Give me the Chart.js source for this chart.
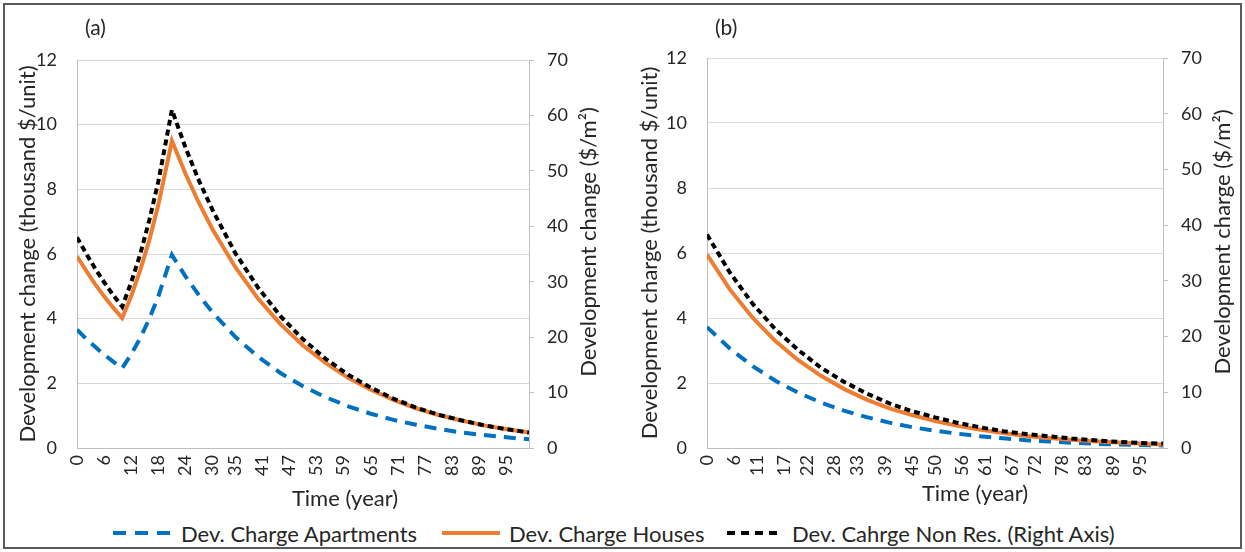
<!DOCTYPE html>
<html>
<head>
<meta charset="utf-8">
<script src="https://cdn.jsdelivr.net/npm/chart.js@4.4.0/dist/chart.umd.min.js"></script>
<style>
  html, body { margin: 0; padding: 0; background: #fff; }
  #wrap { position: relative; width: 1245px; height: 552px; font-family: Lato, sans-serif; color: #262626; }
  #frame { position: absolute; left: 3px; top: 3px; width: 1235px; height: 542px; border: 2px solid #595959; pointer-events: none; }
  canvas { position: absolute; top: 0; }
  #chartA { left: 0; }
  #chartB { left: 622px; }
  .item { position: absolute; top: 519px; height: 28px; display: flex; align-items: center; font-size: 22px; white-space: nowrap; }
  .item svg { margin-right: 9px; }
</style>
</head>
<body>
<div id="wrap">
  <canvas id="chartA" width="622" height="515"></canvas>
  <canvas id="chartB" width="623" height="515"></canvas>
  <div class="item" style="left:113px">
    <svg width="59" height="10"><line x1="0" y1="5" x2="59" y2="5" stroke="#0070C0" stroke-width="4" stroke-dasharray="13 9"/></svg>
    <span>Dev. Charge Apartments</span>
  </div>
  <div class="item" style="left:442px">
    <svg width="58" height="10"><line x1="0" y1="5" x2="58" y2="5" stroke="#ED7D31" stroke-width="4"/></svg>
    <span>Dev. Charge Houses</span>
  </div>
  <div class="item" style="left:727px">
    <svg width="56" height="10"><line x1="0" y1="5" x2="56" y2="5" stroke="#000" stroke-width="4" stroke-dasharray="8 6"/></svg>
    <span>Dev. Cahrge Non Res. (Right Axis)</span>
  </div>
  <div id="frame"></div>
</div>
<script>
// panel (a)
const yearsA = [0, 2, 4, 6, 8, 10, 12, 14, 16, 18, 21, 24, 27, 30, 35, 40, 45, 50, 55, 60, 65, 70, 75, 80, 85, 90, 95, 100];
const apartmentsA = [3.66, 3.38, 3.13, 2.89, 2.67, 2.47, 2.90, 3.40, 4.00, 4.69, 5.97, 5.31, 4.72, 4.19, 3.44, 2.83, 2.32, 1.91, 1.57, 1.29, 1.06, 0.87, 0.72, 0.59, 0.48, 0.40, 0.33, 0.27];
const housesA = [5.93, 5.49, 5.07, 4.69, 4.34, 4.02, 4.70, 5.50, 6.43, 7.52, 9.50, 8.48, 7.57, 6.76, 5.60, 4.63, 3.83, 3.17, 2.63, 2.17, 1.80, 1.49, 1.23, 1.02, 0.85, 0.70, 0.58, 0.48];
const nonResA = [38.0, 35.1, 32.4, 29.9, 27.6, 25.5, 29.9, 35.0, 41.1, 48.1, 61.0, 54.2, 48.2, 42.9, 35.2, 29.0, 23.8, 19.6, 16.1, 13.2, 10.9, 8.9, 7.3, 6.0, 5.0, 4.1, 3.4, 2.8];
const xTicksA = [0, 6, 12, 18, 24, 30, 35, 41, 47, 53, 59, 65, 71, 77, 83, 89, 95];

// panel (b)
const yearsB = [0, 5, 10, 15, 20, 25, 30, 35, 40, 45, 50, 55, 60, 65, 70, 75, 80, 85, 90, 95, 100];
const apartmentsB = [3.72, 3.06, 2.52, 2.07, 1.70, 1.40, 1.15, 0.95, 0.78, 0.64, 0.53, 0.44, 0.36, 0.30, 0.24, 0.20, 0.16, 0.13, 0.11, 0.09, 0.08];
const housesB = [5.95, 4.88, 4.01, 3.29, 2.70, 2.22, 1.82, 1.49, 1.22, 1.01, 0.83, 0.68, 0.56, 0.46, 0.37, 0.31, 0.25, 0.21, 0.17, 0.14, 0.11];
const nonResB = [38.3, 31.5, 25.9, 21.3, 17.6, 14.4, 11.9, 9.8, 8.0, 6.6, 5.5, 4.5, 3.7, 3.0, 2.5, 2.1, 1.7, 1.4, 1.1, 0.9, 0.8];
const xTicksB = [0, 6, 11, 17, 22, 28, 33, 39, 45, 50, 56, 61, 67, 72, 78, 83, 89, 95];

const leftTicks = [0, 2, 4, 6, 8, 10, 12];
const rightTicks = [0, 10, 20, 30, 40, 50, 60, 70];

const textColor = "#262626";
const axisColor = "#bfbfbf";

// extra texts: panel letter, x title, right title reading upwards
const panelText = {
    id: "panelText",
    afterDraw(chart, args, o) {
        const ctx = chart.ctx;
        const area = chart.chartArea;
        ctx.save();
        ctx.fillStyle = textColor;
        ctx.textBaseline = "middle";
        ctx.textAlign = "left";
        ctx.font = "21px Lato";
        ctx.fillText(o.letter, area.left + 8, 28);
        ctx.font = "22px Lato";
        ctx.textAlign = "center";
        ctx.fillText("Time (year)", area.left + 268, o.xTitleY);
        ctx.translate(area.right + 60, 242);
        ctx.rotate(-Math.PI / 2);
        ctx.fillText(o.rightTitle, 0, 0);
        ctx.restore();
    }
};

function toPoints(xs, ys) {
    return xs.map((x, i) => ({ x: x, y: ys[i] }));
}

function makeChart(id, years, apts, houses, nonRes, xTicks, p) {
    return new Chart(document.getElementById(id), {
        type: "line",
        data: {
            datasets: [
                {
                    label: "Dev. Charge Apartments",
                    data: toPoints(years, apts),
                    borderColor: "#0070C0",
                    borderWidth: 4,
                    borderDash: [12, 8],
                    yAxisID: "y",
                    order: 3
                },
                {
                    label: "Dev. Charge Houses",
                    data: toPoints(years, houses),
                    borderColor: "#ED7D31",
                    borderWidth: 4,
                    yAxisID: "y",
                    order: 2
                },
                {
                    label: "Dev. Cahrge Non Res. (Right Axis)",
                    data: toPoints(years, nonRes),
                    borderColor: "#000000",
                    borderWidth: 4,
                    borderDash: [6, 4],
                    yAxisID: "y1",
                    order: 1
                }
            ]
        },
        options: {
            responsive: false,
            animation: false,
            devicePixelRatio: 1,
            layout: { padding: { top: p.top, left: 0, right: 0, bottom: 0 } },
            elements: { point: { radius: 0 }, line: { tension: 0, borderCapStyle: "butt" } },
            plugins: {
                legend: { display: false },
                tooltip: { enabled: false },
                panelText: { letter: p.letter, xTitleY: p.xTitleY, rightTitle: p.rightTitle }
            },
            scales: {
                x: {
                    type: "linear",
                    min: 0,
                    max: 100,
                    afterBuildTicks: s => { s.ticks = xTicks.map(v => ({ value: v })); },
                    afterFit: s => { s.height = 515 - p.bottomY; },
                    grid: { display: false, drawTicks: false },
                    border: { display: true, color: axisColor, width: 1 },
                    ticks: {
                        autoSkip: false, minRotation: 90, maxRotation: 90, padding: 7,
                        color: textColor, font: { family: "Lato", size: 18 },
                        callback: v => String(v)
                    }
                },
                y: {
                    position: "left",
                    min: 0,
                    max: 12,
                    afterBuildTicks: s => { s.ticks = leftTicks.map(v => ({ value: v })); },
                    afterFit: s => { s.width = p.leftW; },
                    grid: { color: "#d9d9d9", drawTicks: false },
                    border: { color: axisColor },
                    ticks: { padding: 20, color: textColor, font: { family: "Lato", size: 18 } },
                    title: {
                        display: true, text: p.leftTitle, color: textColor,
                        font: { family: "Lato", size: 22 }, padding: { top: 15, bottom: 0 }
                    }
                },
                y1: {
                    position: "right",
                    min: 0,
                    max: 70,
                    afterBuildTicks: s => { s.ticks = rightTicks.map(v => ({ value: v })); },
                    afterFit: s => { s.width = p.rightW; },
                    grid: { drawOnChartArea: false, color: axisColor, tickLength: 5 },
                    border: { color: axisColor },
                    ticks: { padding: 13, color: textColor, font: { family: "Lato", size: 18 } }
                }
            }
        },
        plugins: [panelText]
    });
}

makeChart("chartA", yearsA, apartmentsA, housesA, nonResA, xTicksA, {
    letter: "(a)", top: 60, bottomY: 448, leftW: 77, rightW: 93, xTitleY: 499,
    leftTitle: "Development change (thousand $/unit)",
    rightTitle: "Development change ($/m\u00b2)"
});

makeChart("chartB", yearsB, apartmentsB, housesB, nonResB, xTicksB, {
    letter: "(b)", top: 58, bottomY: 448, leftW: 85, rightW: 82, xTitleY: 494,
    leftTitle: "Development charge (thousand $/unit)",
    rightTitle: "Development charge ($/m\u00b2)"
});
</script>
</body>
</html>
